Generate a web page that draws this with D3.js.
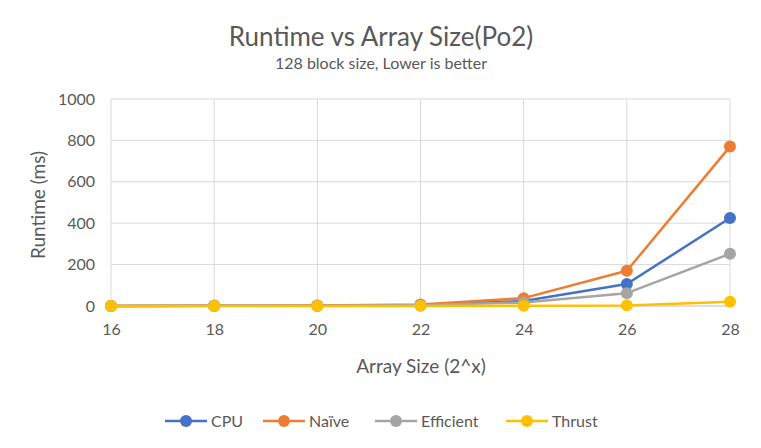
<!DOCTYPE html>
<html><head><meta charset="utf-8">
<script src="https://cdn.jsdelivr.net/npm/d3@7"></script>
<style>body{margin:0;background:#fff}svg{display:block}text{font-family:Lato,"Open Sans",sans-serif;fill:#595959}</style>
</head><body><svg id="c" width="761" height="448"></svg>
<script>
const categories = ["16","18","20","22","24","26","28"];
const seriesNames = ["CPU","Naïve","Efficient","Thrust"];
const cpu = [0.3, 0.8, 1.5, 5, 24, 106, 425];
const naive = [0.5, 1, 2, 7, 38, 170, 770];
const efficient = [0.4, 0.8, 1.5, 4, 17, 62, 252];
const thrust = [0.3, 0.4, 0.5, 0.6, 1, 3, 20];
const yTicks = [0,200,400,600,800,1000];
const colors = ["#4472C4","#ED7D31","#A5A5A5","#FFC000"];
const data = [cpu, naive, efficient, thrust];

const svg = d3.select("#c");
const x = d3.scalePoint().domain(categories).range([111,730]);
const y = d3.scaleLinear().domain([0,1000]).range([306,99]);

svg.append("g").selectAll("line").data(yTicks.slice(1)).join("line")
  .attr("x1",111).attr("x2",730).attr("y1",d=>y(d)).attr("y2",d=>y(d))
  .attr("stroke","#D9D9D9").attr("stroke-width",1);
svg.append("g").selectAll("line").data(categories).join("line")
  .attr("x1",d=>x(d)).attr("x2",d=>x(d)).attr("y1",y(1000)).attr("y2",y(0))
  .attr("stroke","#D9D9D9").attr("stroke-width",1);
svg.append("line").attr("x1",111).attr("x2",730).attr("y1",y(0)).attr("y2",y(0)).attr("stroke","#BFBFBF").attr("stroke-width",1);

const ya = svg.append("g").attr("transform","translate(111,0)")
  .call(d3.axisLeft(y).tickValues(yTicks).tickFormat(d3.format("d")).tickSize(0).tickPadding(16));
ya.select(".domain").remove();
ya.selectAll("text").style("font-size","16px").attr("fill","#595959");
const xa = svg.append("g").attr("transform",`translate(0,${y(0)})`)
  .call(d3.axisBottom(x).tickSize(0).tickPadding(18));
xa.select(".domain").remove();
xa.selectAll("text").style("font-size","16px").attr("fill","#595959");

const line = d3.line().x((d,i)=>x(categories[i])).y(d=>y(d));
data.forEach((s,k)=>{
  svg.append("path").datum(s).attr("d",line).attr("fill","none")
    .attr("stroke",colors[k]).attr("stroke-width",2.5).attr("stroke-linejoin","round");
  svg.append("g").selectAll("circle").data(s).join("circle")
    .attr("cx",(d,i)=>x(categories[i])).attr("cy",d=>y(d)).attr("r",6).attr("fill",colors[k]);
});

svg.append("text").attr("x",381).attr("y",46).attr("text-anchor","middle").style("font-size","26px").text("Runtime vs Array Size(Po2)");
svg.append("text").attr("x",381).attr("y",69).attr("text-anchor","middle").style("font-size","16px").text("128 block size, Lower is better");
svg.append("text").attr("x",421).attr("y",373).attr("text-anchor","middle").style("font-size","19px").text("Array Size (2^x)");
svg.append("text").attr("transform","translate(45,205) rotate(-90)").attr("text-anchor","middle").style("font-size","19px").text("Runtime (ms)");

const legX = [165, 263, 375, 506];
const lg = svg.append("g");
seriesNames.forEach((n,k)=>{
  const g = lg.append("g").attr("transform",`translate(${legX[k]},421)`);
  g.append("line").attr("x1",0).attr("x2",42).attr("y1",0).attr("y2",0).attr("stroke",colors[k]).attr("stroke-width",2.5);
  g.append("circle").attr("cx",21).attr("cy",0).attr("r",6).attr("fill",colors[k]);
  g.append("text").attr("x",46).attr("y",6).style("font-size","16px").text(n);
});
</script></body></html>
